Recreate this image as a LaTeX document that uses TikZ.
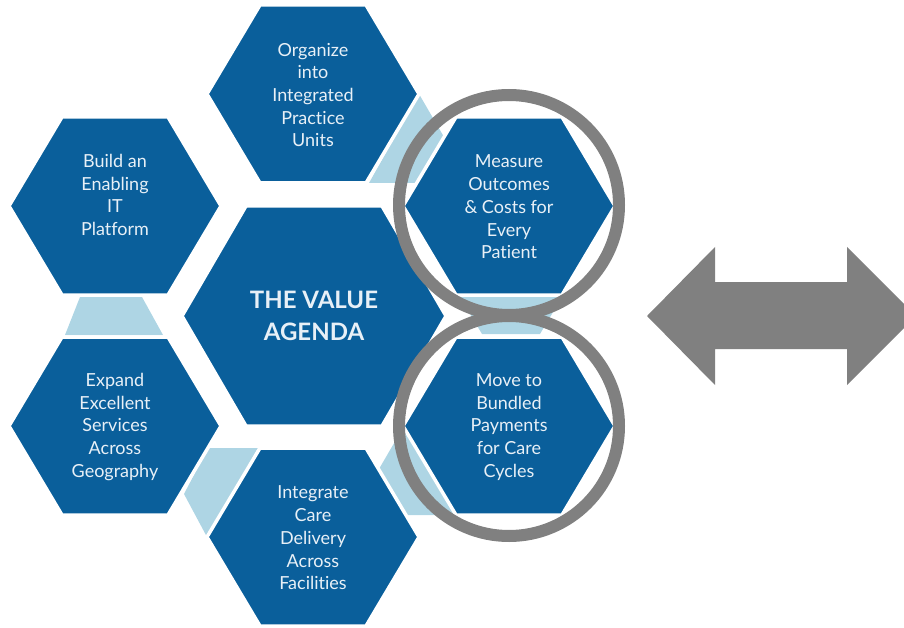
\documentclass[tikz,border=0pt]{standalone}
\usepackage{fontspec}
\setmainfont{Lato}[Ligatures={NoCommon,NoRare,NoDiscretionary}]
\definecolor{hexblue}{RGB}{10,95,155}
\definecolor{hexlight}{RGB}{174,213,228}
\definecolor{ringgray}{RGB}{128,128,128}
\definecolor{hextext}{RGB}{232,240,247}
\tikzset{
  hexfill/.style={fill=hexblue, draw=white, line width=3.5pt, line join=miter},
  gapfill/.style={fill=hexlight},
  hexlabel/.style={text=hextext, align=center, inner sep=0pt,
    font=\fontsize{18}{22.7}\selectfont},
  biglabel/.style={text=hextext, align=center, inner sep=0pt,
    font=\fontsize{24}{32}\selectfont\bfseries},
  ring/.style={draw=ringgray, line width=12pt},
  bigarrow/.style={fill=ringgray},
  smallhex/.pic={\path[hexfill] (-106,0)--(-53,-89)--(53,-89)--(106,0)--(53,89)--(-53,89)--cycle;},
  bighex/.pic={\path[hexfill] (-132,0)--(-68,-110)--(68,-110)--(132,0)--(68,110)--(-68,110)--cycle;}
}
\begin{document}
\begin{tikzpicture}[x=1pt,y=-1pt]
\useasboundingbox (0,0) rectangle (904,628);
\clip (0,0) rectangle (904,628);
% light blue gap pieces
\fill[gapfill] (419,94)--(444,137)--(417,183)--(369,183)--cycle;
\fill[gapfill] (460,297)--(562,297)--(540,334)--(482,334)--cycle;
\fill[gapfill] (208,448)--(258,448)--(207,537)--(184,494)--cycle;
\fill[gapfill] (404,426)--(379,469)--(406,515)--(455,515)--cycle;
\fill[gapfill] (80,297)--(142,297)--(163,335)--(65,335)--cycle;
% hexagons
\pic at (313,94) {smallhex};
\pic at (115,206) {smallhex};
\pic at (115,426) {smallhex};
\pic at (509,206) {smallhex};
\pic at (509,426) {smallhex};
\pic at (313,537) {smallhex};
\pic at (314,316) {bighex};
% labels
\node[hexlabel] (org) at (313,95) {Organize\\into\\Integrated\\Practice\\Units};
\node[hexlabel] (build) at (115,195) {Build an\\Enabling\\IT\\Platform};
\node[hexlabel] (expand) at (115,427) {Expand\\Excellent\\Services\\Across\\Geography};
\node[hexlabel] (measure) at (509,207) {Measure\\Outcomes\\\&~Costs for\\Every\\Patient};
\node[hexlabel] (move) at (509,427) {Move to\\Bundled\\Payments\\for Care\\Cycles};
\node[hexlabel] (integ) at (313,538) {Integrate\\Care\\Delivery\\Across\\Facilities};
\node[biglabel] (value) at (314,316) {THE VALUE\\AGENDA};
% rings
\draw[ring] (509,205) circle (110);
\draw[ring] (509,426) circle (110);
% double arrow
\fill[bigarrow] (647,316)--(715,247)--(715,282)--(847,282)--(847,247)--(916,316)--(847,385)--(847,349)--(715,349)--(715,385)--cycle;
\end{tikzpicture}
\end{document}
